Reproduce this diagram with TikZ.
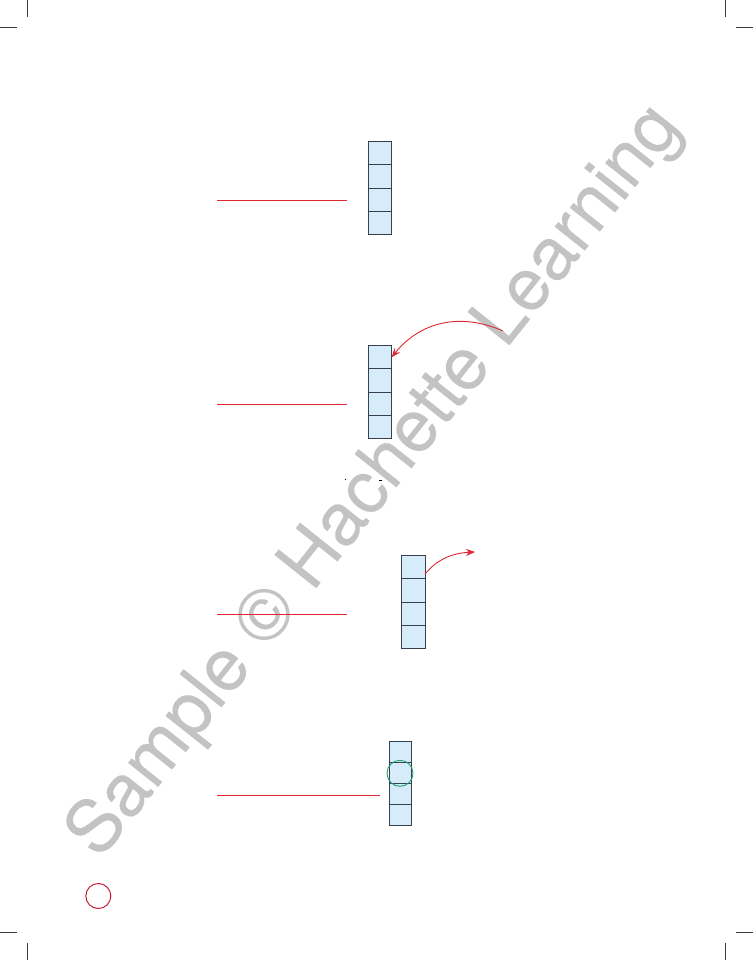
\documentclass[tikz,border=0pt]{standalone}
\usepackage{fontspec}
\newfontfamily\wmfont[FakeBold=0.25]{TeX Gyre Heros}
\usetikzlibrary{arrows.meta}
\definecolor{cellfill}{RGB}{214,236,250}
\definecolor{celledge}{RGB}{55,65,78}
\definecolor{redline}{RGB}{222,40,50}
\definecolor{greenc}{RGB}{30,160,110}
\definecolor{crimsonc}{RGB}{200,30,60}
\definecolor{wmgray}{RGB}{195,195,195}
\definecolor{cropc}{RGB}{60,60,60}
\tikzset{
  cell/.style={draw=celledge, fill=cellfill, line width=0.9pt, minimum width=23.3pt, minimum height=23.2pt, inner sep=0pt, outer sep=0pt},
  cellsmall/.style={cell, minimum width=21.7pt, minimum height=21pt},
  guide/.style={draw=redline, line width=0.9pt},
  curvearrow/.style={draw=redline, line width=0.9pt, -{Stealth[length=9pt,width=7pt]}},
  crop/.style={draw=cropc, line width=0.9pt},
  wm/.style={text=wmgray, font=\wmfont\fontsize{73}{73}\selectfont}
}
\begin{document}
\begin{tikzpicture}[x=1pt,y=-1pt]
\useasboundingbox (0,0) rectangle (753,960);
% watermark
\node[wm, rotate=51.5, anchor=base] (wmark) at (391,494) {Sample © Hachette Learning};
% crop marks
\draw[crop] (27,0) -- (27,17) (0,27) -- (17,27);
\draw[crop] (725.5,0) -- (725.5,17) (736,27) -- (753,27);
\draw[crop] (0,932.5) -- (17,932.5) (27,943) -- (27,960);
\draw[crop] (736,932.5) -- (753,932.5) (725.5,943) -- (725.5,960);
% stack 1
\foreach \i in {0,1,2,3}{\node[cell] (a\i) at (380,153.3+23.15*\i) {};}
\coordinate (l1s) at (217,200); \coordinate (l1e) at (347,200);
\draw[guide] (l1s) -- (l1e);
% stack 2
\foreach \i in {0,1,2,3}{\node[cell] (b\i) at (380,357.3+23.15*\i) {};}
\coordinate (l2s) at (217,404); \coordinate (l2e) at (347,404);
\draw[guide] (l2s) -- (l2e);
\coordinate (arr2s) at (503,331);
\draw[curvearrow] (arr2s) .. controls (460,312) and (420,322) .. (b0.east);
% small marks
\coordinate (m1) at (345.5,479.5);
\fill[black] (m1) circle (0.6pt);
\coordinate (m2a) at (378.5,480); \coordinate (m2b) at (382,480);
\draw[black, line width=0.6pt] (m2a) -- (m2b);
% stack 3
\foreach \i in {0,1,2,3}{\node[cell] (c\i) at (413.3,567.3+23.2*\i) {};}
\coordinate (l3s) at (217,614); \coordinate (l3e) at (347,614);
\draw[guide] (l3s) -- (l3e);
\coordinate (arr3e) at (475,552);
\path (c0.east) ++(0,7) coordinate (arr3s);
\draw[curvearrow] (arr3s) .. controls (436,560) and (452,553) .. (arr3e);
% stack 4
\foreach \i in {0,1,2,3}{\node[cellsmall] (d\i) at (400.2,752.2+21*\i) {};}
\coordinate (l4s) at (217,795); \coordinate (l4e) at (380,795);
\draw[guide] (l4s) -- (l4e);
\node[draw=greenc, line width=0.9pt, circle, minimum size=26pt, inner sep=0pt] (gc) at (400,773.3) {};
% page circle
\node[draw=crimsonc, line width=1pt, circle, minimum size=25pt, inner sep=0pt] (pc) at (98.3,896) {};
\end{tikzpicture}
\end{document}
